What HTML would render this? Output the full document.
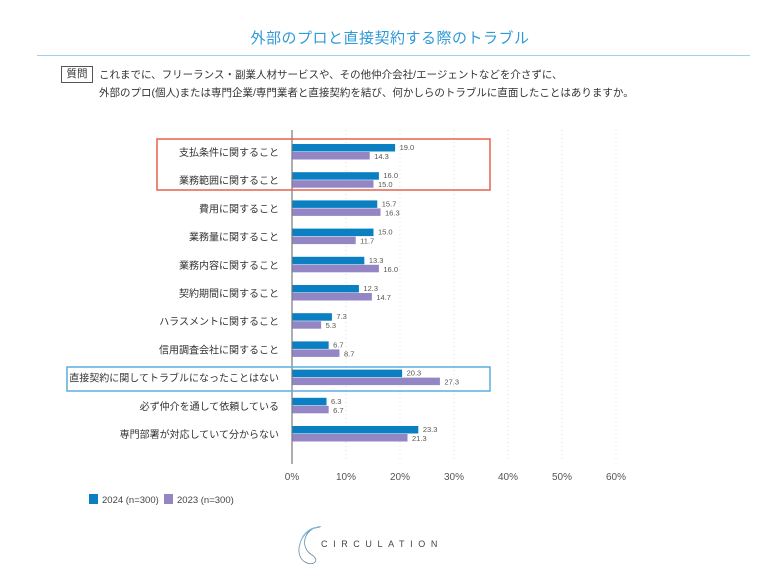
<!DOCTYPE html>
<html><head><meta charset="utf-8"><style>
body{margin:0;width:780px;height:583px;background:#fff;font-family:"Liberation Sans","Noto Sans CJK JP",sans-serif;position:relative;overflow:hidden;color:#333}
.a{position:absolute;white-space:nowrap}
</style></head><body>
<div class="a" style="left:0;width:780px;top:27px;text-align:center;font-size:15px;color:#2f9ad6;letter-spacing:0.5px">外部のプロと直接契約する際のトラブル</div>
<div class="a" style="left:37px;width:713px;top:55px;height:1px;background:#9fd0ee"></div>
<div class="a" style="left:61px;top:66px;width:30px;height:15px;border:1px solid #555;font-size:10.5px;text-align:center;line-height:15px">質問</div>
<div class="a" style="left:99px;top:66px;font-size:10.5px;line-height:18px">これまでに、フリーランス・副業人材サービスや、その他仲介会社/エージェントなどを介さずに、<br>外部のプロ(個人)または専門企業/専門業者と直接契約を結び、何かしらのトラブルに直面したことはありますか。</div>
<svg class="a" style="left:0;top:0" width="780" height="583" font-family="Liberation Sans, Noto Sans CJK JP, sans-serif">
<g stroke="#ddd" stroke-dasharray="1,3">
<line x1="346" y1="130" x2="346" y2="460"/><line x1="400" y1="130" x2="400" y2="460"/><line x1="454" y1="130" x2="454" y2="460"/><line x1="508" y1="130" x2="508" y2="460"/><line x1="562" y1="130" x2="562" y2="460"/><line x1="616" y1="130" x2="616" y2="460"/>
</g>
<line x1="292" y1="130" x2="292" y2="464" stroke="#777" stroke-width="1.2"/>
<g font-size="10" fill="#555" text-anchor="middle">
<text x="292" y="480">0%</text><text x="346" y="480">10%</text><text x="400" y="480">20%</text><text x="454" y="480">30%</text><text x="508" y="480">40%</text><text x="562" y="480">50%</text><text x="616" y="480">60%</text>
</g>
<g id="bars"></g>
<rect x="157" y="139" width="333" height="51" fill="none" stroke="#e8604c" stroke-width="1.5"/>
<rect x="67" y="367" width="423" height="24" fill="none" stroke="#5aaee0" stroke-width="1.5"/>
<rect x="89" y="494" width="9" height="10" fill="#0a7fc2"/><text x="102" y="503" font-size="9.5" fill="#444">2024 (n=300)</text>
<rect x="164" y="494" width="9" height="10" fill="#9486c4"/><text x="177" y="503" font-size="9.5" fill="#444">2023 (n=300)</text>
<path d="M315 528 C300 532 293 555 305 562 C314 567 320 560 312 555 C300 548 303 530 318 527 C322 526 321 527 315 528Z" fill="none" stroke="#6a8aa0" stroke-width="0.8"/>
<path d="M318 527 C308 528 301 536 300 545" fill="none" stroke="#7fc4ec" stroke-width="1"/>
<text x="321" y="547" font-size="9" fill="#444" letter-spacing="5.6">CIRCULATION</text>
</svg>
<script>
var d=[["支払条件に関すること",19.0,14.3],["業務範囲に関すること",16.0,15.0],["費用に関すること",15.7,16.3],["業務量に関すること",15.0,11.7],["業務内容に関すること",13.3,16.0],["契約期間に関すること",12.3,14.7],["ハラスメントに関すること",7.3,5.3],["信用調査会社に関すること",6.7,8.7],["直接契約に関してトラブルになったことはない",20.3,27.3],["必ず仲介を通して依頼している",6.3,6.7],["専門部署が対応していて分からない",23.3,21.3]];
var s="";d.forEach(function(r,i){var c=152+i*28.2;
s+='<text x="279" y="'+(c+4)+'" font-size="10" fill="#333" text-anchor="end">'+r[0]+'</text>';
s+='<rect x="292.5" y="'+(c-8)+'" width="'+(r[1]*5.4)+'" height="7.5" fill="#0a7fc2"/>';
s+='<rect x="292.5" y="'+(c)+'" width="'+(r[2]*5.4)+'" height="7.5" fill="#9486c4"/>';
s+='<text x="'+(297+r[1]*5.4)+'" y="'+(c-2)+'" font-size="7.5" fill="#555">'+r[1].toFixed(1)+'</text>';
s+='<text x="'+(297+r[2]*5.4)+'" y="'+(c+7)+'" font-size="7.5" fill="#555">'+r[2].toFixed(1)+'</text>';});
document.getElementById("bars").innerHTML=s;
</script>
</body></html>
